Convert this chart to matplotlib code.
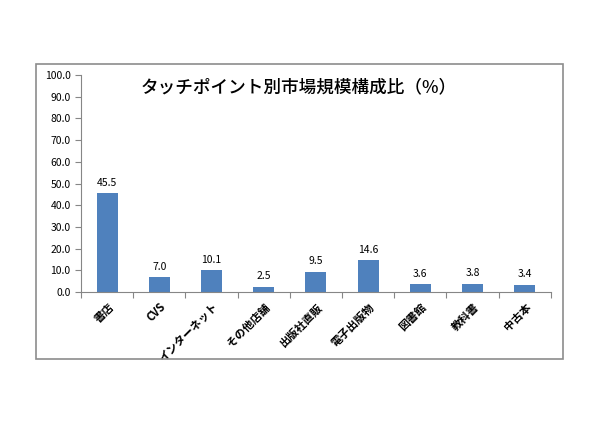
import matplotlib
matplotlib.use("Agg")
import matplotlib.pyplot as plt
from matplotlib.patches import Rectangle

plt.rcParams['font.family'] = ['Noto Sans CJK JP', 'DejaVu Sans']

categories = ["書店", "CVS", "インターネット", "その他店舗", "出版社直販", "電子出版物", "図書館", "教科書", "中古本"]
values = [45.5, 7.0, 10.1, 2.5, 9.5, 14.6, 3.6, 3.8, 3.4]
yticks = [0, 10, 20, 30, 40, 50, 60, 70, 80, 90, 100]
title = "タッチポイント別市場規模構成比（%）"

fig = plt.figure(figsize=(6, 4.24), dpi=100)
fig.patches.append(Rectangle((0.06, 0.153), 0.878, 0.696, transform=fig.transFigure,
                             fill=False, edgecolor="#8c8c8c", linewidth=1.2))
ax = fig.add_axes([0.135, 0.311, 0.783, 0.512])
x = list(range(len(categories)))
ax.bar(x, values, width=0.4, color="#4F81BD")
for xi, v in zip(x, values):
    ax.text(xi, v + 2.5, f"{v:.1f}", ha="center", va="bottom", fontsize=7.5)
ax.set_xlim(-0.5, len(categories) - 0.5)
ax.set_ylim(0, 100)
ax.set_yticks(yticks)
ax.set_yticklabels([f"{t:.1f}" for t in yticks], fontsize=7.5)
ax.set_xticks([i - 0.5 for i in range(len(categories) + 1)])
ax.set_xticklabels([])
ax.set_xticks(x, minor=True)
ax.set_xticklabels(categories, minor=True, rotation=45, ha="right", rotation_mode="anchor",
                   fontsize=8, fontweight="bold")
ax.tick_params(axis="x", which="minor", length=0, pad=6)
ax.tick_params(axis="x", which="major", length=4, color="#868686")
ax.tick_params(axis="y", length=4, color="#868686")
for s in ["top", "right"]:
    ax.spines[s].set_visible(False)
for s in ["left", "bottom"]:
    ax.spines[s].set_color("#868686")
fig.text(0.498, 0.795, title, ha="center", va="center", fontsize=12.7, fontweight="medium")
fig.savefig("out.png", dpi=100)
